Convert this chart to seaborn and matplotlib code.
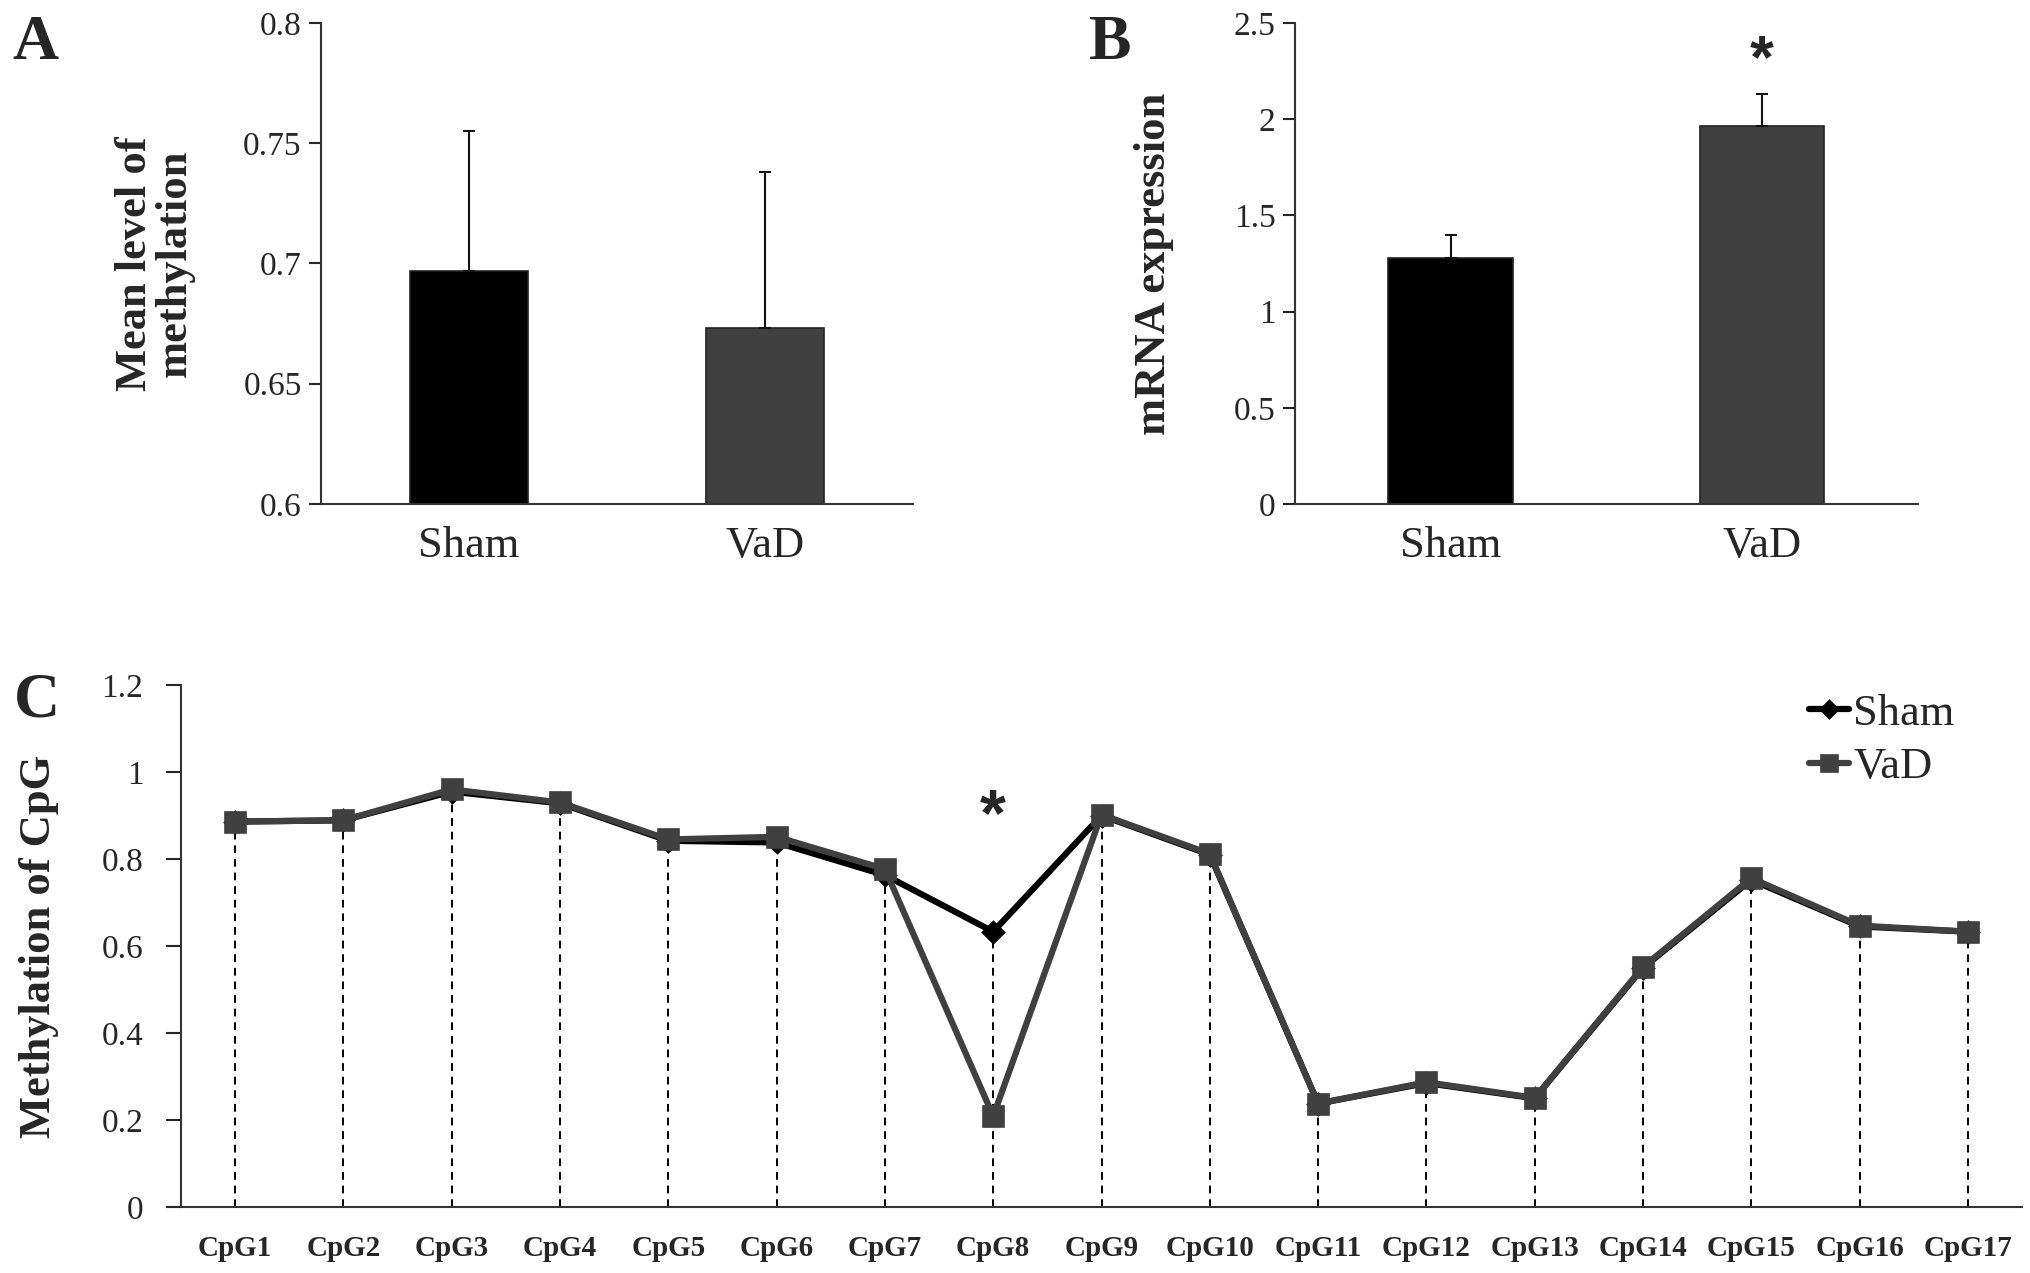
import numpy as np
import pandas as pd
import matplotlib
matplotlib.use("Agg")
import matplotlib.pyplot as plt
import seaborn as sns

# ==========================================
# Data
# ==========================================

groups = ["Sham", "VaD"]

# A: mean level of methylation
meth_mean = [0.697, 0.673]
meth_err = [0.058, 0.065]

# B: mRNA expression
mrna_mean = [1.279, 1.966]
mrna_err = [0.120, 0.164]

# C: methylation of each CpG site
cpg_sites = ["CpG%d" % i for i in range(1, 18)]
sham_cpg = [0.886, 0.889, 0.955, 0.928, 0.842, 0.838, 0.763, 0.633, 0.900,
            0.810, 0.238, 0.285, 0.250, 0.550, 0.752, 0.645, 0.633]
vad_cpg = [0.886, 0.889, 0.960, 0.930, 0.845, 0.851, 0.777, 0.209, 0.902,
           0.812, 0.238, 0.287, 0.251, 0.552, 0.756, 0.647, 0.633]

# ==========================================
# Style
# ==========================================

sns.set_style("ticks")
plt.rcParams['font.family'] = ['Liberation Serif', 'DejaVu Serif']
plt.rcParams['axes.edgecolor'] = '#333333'
plt.rcParams['axes.linewidth'] = 1.5

black = "#000000"
grey = "#404040"
bar_colors = [black, grey]

fig = plt.figure(figsize=(20.31, 12.73), dpi=100)

ax_a = fig.add_axes([0.1581, 0.6041, 0.2915, 0.3779])
ax_b = fig.add_axes([0.6376, 0.6041, 0.3067, 0.3779])
ax_c = fig.add_axes([0.0891, 0.0518, 0.9065, 0.4101])


def bar_panel(ax, means, errs, ylim, yticks, ylabel, label_x):
    df = pd.DataFrame({"group": groups, "value": means})
    sns.barplot(data=df, x="group", y="value", hue="group", palette=bar_colors,
                width=0.4, edgecolor="#222222", linewidth=1.2,
                legend=False, errorbar=None, ax=ax)
    ax.errorbar(range(len(means)), means, yerr=[np.zeros(len(errs)), errs],
                fmt="none", ecolor="#111111", elinewidth=1.5,
                capsize=4, capthick=1.5)
    ax.set_ylim(*ylim)
    ax.set_xlim(-0.5, 1.5)
    ax.set_yticks(yticks)
    ax.set_yticklabels([("%g" % t) for t in yticks])
    ax.set_xlabel("")
    ax.set_ylabel(ylabel, fontsize=32, fontweight="bold", linespacing=1.0)
    ax.yaxis.set_label_coords(label_x, 0.5)
    ax.tick_params(axis="y", labelsize=24, length=9, width=1.5, pad=5)
    ax.tick_params(axis="x", labelsize=32, length=0, pad=16)
    sns.despine(ax=ax)


# ==========================================
# Panel A
# ==========================================

bar_panel(ax_a, meth_mean, meth_err, (0.6, 0.8),
          [0.6, 0.65, 0.7, 0.75, 0.8], "Mean level of\nmethylation", -0.213)

# ==========================================
# Panel B
# ==========================================

bar_panel(ax_b, mrna_mean, mrna_err, (0, 2.5),
          [0, 0.5, 1, 1.5, 2, 2.5], "mRNA expression", -0.194)
ax_b.text(1, 2.30, "*", ha="center", va="center", fontsize=44,
          fontweight="bold", family=["Liberation Sans", "DejaVu Sans"])

# ==========================================
# Panel C
# ==========================================

sham_df = pd.DataFrame({"site": cpg_sites, "value": sham_cpg})
vad_df = pd.DataFrame({"site": cpg_sites, "value": vad_cpg})

# dashed drop lines from the highest point down to the axis
ax_c.vlines(range(17), 0, np.maximum(sham_cpg, vad_cpg), colors=black,
            linestyles=(0, (4, 3)), linewidth=1.4, zorder=1)

sns.pointplot(data=sham_df, x="site", y="value", color=black, marker="D",
              errorbar=None, markersize=9, linewidth=4.5, label="Sham",
              ax=ax_c)
sns.pointplot(data=vad_df, x="site", y="value", color=grey, marker="s",
              errorbar=None, markersize=13, linewidth=4.5, label="VaD",
              ax=ax_c)

ax_c.set_ylim(0, 1.2)
ax_c.set_xlim(-0.5, 16.5)
ax_c.set_yticks([0, 0.2, 0.4, 0.6, 0.8, 1, 1.2])
ax_c.set_yticklabels(["0", "0.2", "0.4", "0.6", "0.8", "1", "1.2"])
ax_c.set_xlabel("")
ax_c.set_ylabel("Methylation of CpG", fontsize=32, fontweight="bold")
ax_c.yaxis.set_label_coords(-0.0663, 0.5)
ax_c.tick_params(axis="y", labelsize=24, length=11, width=1.5, pad=16)
ax_c.tick_params(axis="x", labelsize=21, length=0, pad=20)
for lbl in ax_c.get_xticklabels():
    lbl.set_fontweight("bold")
sns.despine(ax=ax_c)

ax_c.text(7, 0.895, "*", ha="center", va="center", fontsize=48,
          fontweight="bold", family=["Liberation Sans", "DejaVu Sans"])

leg = ax_c.legend(loc="upper right", bbox_to_anchor=(0.985, 1.06),
                  frameon=False, fontsize=32, handlelength=0.9,
                  handletextpad=0.1, labelspacing=0.3, markerscale=0.8)

# ==========================================
# Panel letters
# ==========================================

for letter, x, y in [("A", 0.006, 0.988), ("B", 0.536, 0.988),
                     ("C", 0.007, 0.472)]:
    fig.text(x, y, letter, fontsize=46, fontweight="bold", va="top")

fig.savefig("out.png", dpi=100, facecolor="white")
